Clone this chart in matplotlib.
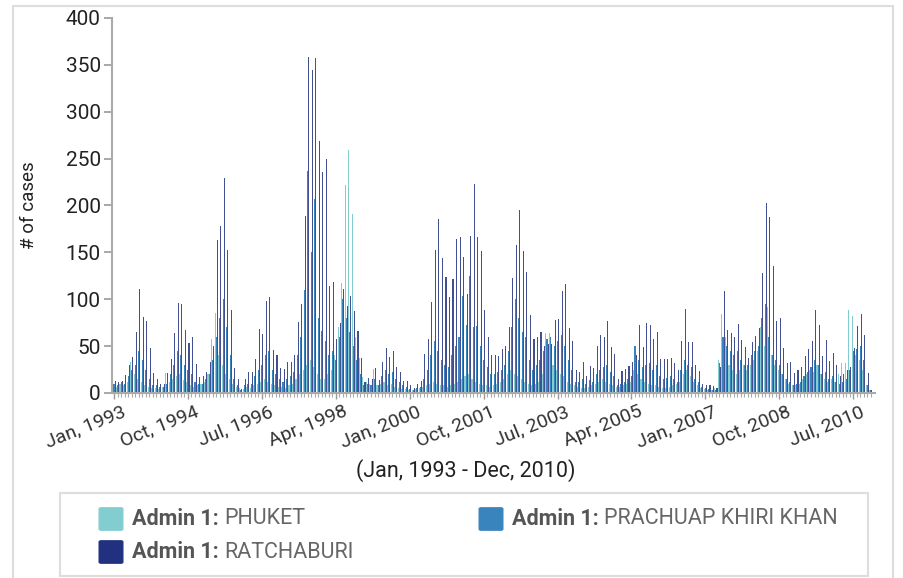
import numpy as np
import matplotlib
matplotlib.use('Agg')
import matplotlib.pyplot as plt
import matplotlib.transforms as mtransforms
from matplotlib.patches import FancyBboxPatch, Rectangle

plt.rcParams['font.family'] = ['Roboto', 'DejaVu Sans']

# monthly cases, Jan 1993 - Dec 2010
ratchaburi = [
    13, 12, 13, 19, 30, 38, 65, 111, 81, 77, 48, 21,
    15, 10, 10, 21, 36, 64, 96, 95, 67, 53, 60, 31,
    17, 18, 22, 33, 50, 163, 178, 229, 153, 88, 27, 15,
    4, 15, 22, 22, 36, 68, 63, 98, 102, 46, 40, 27,
    26, 33, 33, 40, 76, 95, 189, 358, 344, 357, 269, 236,
    250, 114, 118, 58, 75, 111, 93, 103, 87, 66, 37, 12,
    16, 15, 27, 14, 33, 48, 38, 45, 28, 22, 13, 13,
    9, 5, 10, 13, 42, 58, 97, 153, 186, 144, 124, 102,
    122, 164, 166, 145, 106, 167, 223, 166, 151, 89, 60, 41,
    41, 39, 47, 50, 70, 123, 158, 195, 151, 129, 83, 58,
    60, 65, 50, 52, 52, 78, 79, 109, 116, 69, 55, 24,
    22, 33, 18, 29, 27, 50, 62, 60, 77, 49, 42, 15,
    23, 26, 29, 33, 41, 73, 49, 75, 72, 58, 65, 36,
    36, 36, 37, 32, 25, 55, 90, 54, 54, 30, 23, 10,
    9, 9, 7, 5, 28, 109, 67, 64, 60, 74, 56, 49,
    37, 54, 61, 69, 128, 203, 188, 135, 77, 80, 48, 32,
    33, 21, 25, 28, 39, 47, 55, 89, 73, 39, 56, 34,
    43, 30, 18, 20, 25, 28, 48, 71, 84, 62, 21, 3,
]
prachuap = [
    10, 8, 12, 10, 18, 25, 30, 45, 35, 25, 15, 8,
    8, 6, 6, 10, 20, 30, 45, 40, 30, 25, 20, 12,
    10, 10, 15, 20, 35, 60, 80, 100, 70, 40, 15, 8,
    3, 8, 10, 10, 18, 25, 30, 40, 45, 25, 20, 15,
    12, 15, 18, 22, 40, 60, 110, 237, 150, 207, 80, 66,
    55, 40, 45, 35, 60, 100, 80, 65, 50, 35, 20, 8,
    10, 8, 15, 8, 18, 25, 20, 22, 15, 12, 8, 6,
    4, 3, 5, 6, 15, 25, 40, 55, 45, 35, 30, 28,
    40, 50, 60, 103, 72, 125, 70, 71, 50, 35, 28, 20,
    20, 22, 25, 30, 45, 70, 100, 80, 65, 60, 35, 25,
    30, 35, 45, 58, 60, 50, 55, 62, 50, 35, 25, 12,
    12, 15, 10, 14, 12, 20, 25, 28, 30, 22, 18, 8,
    10, 12, 15, 18, 50, 35, 28, 30, 32, 25, 30, 18,
    15, 16, 18, 15, 12, 25, 35, 30, 28, 15, 12, 6,
    5, 4, 3, 3, 32, 60, 50, 45, 40, 45, 35, 30,
    30, 40, 45, 50, 80, 95, 60, 40, 35, 30, 20, 15,
    12, 8, 10, 12, 18, 22, 28, 35, 30, 20, 22, 15,
    18, 12, 10, 12, 15, 25, 45, 47, 50, 35, 8, 3,
]
phuket = [
    13, 6, 10, 8, 12, 33, 20, 15, 12, 8, 6, 5,
    5, 4, 6, 21, 12, 15, 18, 20, 14, 12, 8, 6,
    8, 10, 12, 20, 58, 85, 40, 30, 20, 15, 10, 6,
    5, 4, 6, 5, 8, 10, 12, 15, 12, 10, 8, 6,
    6, 5, 8, 10, 15, 20, 25, 30, 35, 28, 20, 15,
    15, 20, 25, 40, 70, 117, 222, 259, 191, 60, 37, 17,
    12, 10, 26, 8, 10, 12, 8, 10, 6, 5, 4, 4,
    3, 3, 4, 5, 6, 8, 10, 12, 10, 8, 8, 6,
    8, 10, 12, 15, 18, 20, 15, 12, 10, 8, 8, 6,
    8, 10, 12, 15, 20, 25, 20, 18, 15, 12, 10, 8,
    10, 12, 20, 64, 64, 30, 25, 20, 18, 12, 10, 8,
    6, 5, 5, 6, 8, 10, 12, 15, 12, 10, 8, 6,
    6, 8, 10, 12, 25, 20, 15, 12, 10, 8, 8, 6,
    5, 5, 6, 8, 10, 12, 20, 25, 18, 12, 8, 5,
    4, 3, 3, 5, 35, 84, 60, 30, 25, 20, 25, 30,
    25, 30, 35, 45, 70, 50, 92, 40, 30, 25, 20, 15,
    10, 8, 8, 10, 15, 20, 25, 22, 30, 20, 15, 12,
    15, 12, 20, 32, 32, 88, 82, 40, 35, 25, 8, 3,
]
tick_months = [0, 21, 42, 63, 84, 105, 126, 147, 168, 189, 210]
tick_labels = ['Jan, 1993', 'Oct, 1994', 'Jul, 1996', 'Apr, 1998', 'Jan, 2000', 'Oct, 2001',
               'Jul, 2003', 'Apr, 2005', 'Jan, 2007', 'Oct, 2008', 'Jul, 2010']
names = ['PHUKET', 'PRACHUAP KHIRI KHAN', 'RATCHABURI']
colors = ['#82cdd0', '#3a84bd', '#21317f']

fig = plt.figure(figsize=(9.04, 5.78), dpi=100)
ax = fig.add_axes([0.1238, 0.3201, 0.8446, 0.6488])

x = np.arange(len(ratchaburi))
w = 0.3
ax.bar(x - w, phuket, width=w, color=colors[0], linewidth=0)
ax.bar(x, prachuap, width=w, color=colors[1], linewidth=0)
ax.bar(x + w, ratchaburi, width=w, color=colors[2], linewidth=0, alpha=0.85)

ax.set_xlim(-0.6, 216.3)
ax.set_ylim(0, 400)
ax.set_yticks(range(0, 401, 50))
ax.set_xticks(tick_months)
ax.set_xticks(x, minor=True)

for s in ['top', 'right']:
    ax.spines[s].set_visible(False)
for s in ['left', 'bottom']:
    ax.spines[s].set_color('#aaaaaa')
    ax.spines[s].set_linewidth(1.5)
ax.tick_params(axis='y', length=6, width=1.2, color='#999999', labelsize=15, labelcolor='#222222', pad=2)
ax.tick_params(axis='x', which='major', length=4, width=1, color='#999999', labelsize=14, labelcolor='#333333', pad=3)
ax.tick_params(axis='x', which='minor', length=3, width=0.8, color='#aaaaaa')

ax.set_xticklabels(tick_labels, rotation=22, ha='right', va='top', rotation_mode='anchor')
shift = mtransforms.ScaledTranslation(7 / 100, 0, fig.dpi_scale_trans)
for lab in ax.get_xticklabels():
    lab.set_transform(lab.get_transform() + shift)

ax.set_ylabel('# of cases', fontsize=13.5, color='#222222', labelpad=20)
fig.text(466 / 904, 1 - 471 / 578, '(Jan, 1993 - Dec, 2010)', fontsize=15.5, color='#222222', ha='center', va='center')

# card border and legend box
fig.patches.append(Rectangle((13 / 904, -0.05), 880 / 904, 1.05 - 6 / 578, transform=fig.transFigure,
                             fill=False, edgecolor='#dddddd', linewidth=1.5))
fig.patches.append(Rectangle((60 / 904, 2 / 578), 808 / 904, 83 / 578, transform=fig.transFigure,
                             fill=False, edgecolor='#dddddd', linewidth=1.5))

renderer = fig.canvas.get_renderer()
spots = [(100, 519), (480, 519), (100, 552)]
for (px, py), name, c in zip(spots, names, colors):
    fy = 1 - py / 578
    fig.patches.append(FancyBboxPatch(((px + 1) / 904, fy - 10 / 578), 20 / 904, 20 / 578,
                                      boxstyle='round,pad=0.002', transform=fig.transFigure,
                                      facecolor=c, edgecolor=c))
    t = fig.text((px + 32) / 904, fy, 'Admin 1: ', fontsize=15.5, fontweight='bold', color='#555555', va='center')
    bb = t.get_window_extent(renderer)
    fig.text(bb.x1 / 904, fy, name, fontsize=15.5, color='#666666', va='center')

fig.savefig('out.png', dpi=100)
